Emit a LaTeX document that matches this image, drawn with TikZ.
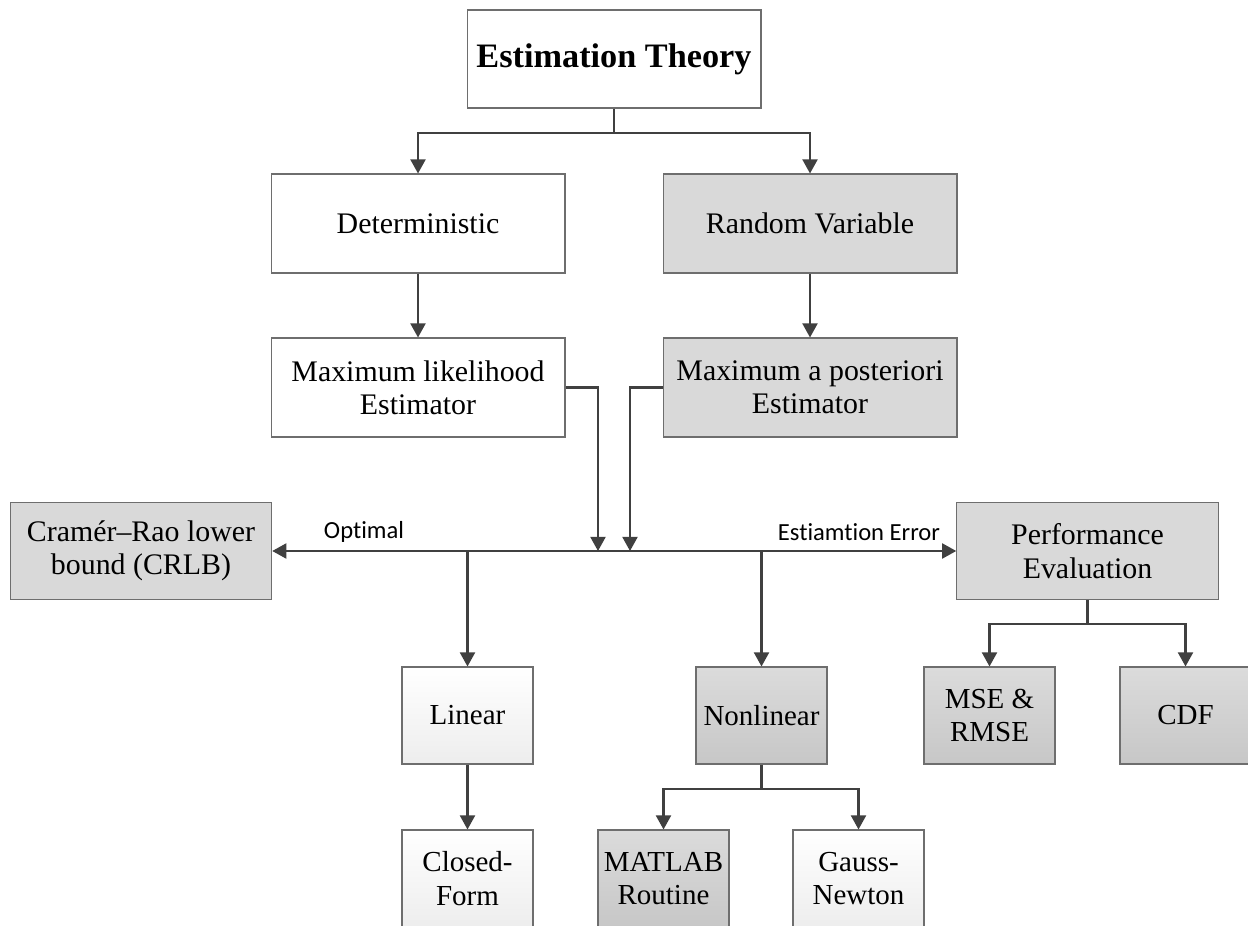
\documentclass[tikz,border=0pt]{standalone}
\usepackage{fontspec}
\setmainfont{Liberation Serif}
\newfontfamily\lblfont[Ligatures=NoCommon]{Carlito}
\usetikzlibrary{arrows.meta,shadings}
\definecolor{linec}{HTML}{404040}
\definecolor{borderc}{HTML}{6E6E6E}
\definecolor{boxgray}{HTML}{D9D9D9}
\tikzset{
  x=0.02cm, y=-0.02cm,
  box/.style={draw=borderc, line width=0.6pt, rectangle, align=center,
    font=\fontsize{16.5}{19}\selectfont, inner sep=2pt},
  whitebox/.style={box, fill=white},
  graybox/.style={box, fill=boxgray},
  lightgrad/.style={box, top color=white, bottom color=black!7},
  darkgrad/.style={box, top color=black!14, bottom color=black!22},
  big/.style={minimum width=5.88cm, minimum height=1.98cm, font=\fontsize{17}{19}\selectfont},
  side/.style={minimum width=5.23cm, minimum height=1.95cm, font=\fontsize{17}{19}\selectfont},
  small/.style={minimum width=2.62cm, minimum height=1.94cm},
  conn/.style={draw=linec, line width=1.25pt},
  arr/.style={conn, -{Triangle[length=8pt,width=8.5pt]}},
  lbl/.style={font=\lblfont\fontsize{14}{16}\selectfont, inner sep=0pt}
}
\begin{document}
\begin{tikzpicture}
\fill[white] (0,0) rectangle (1248,926);
\useasboundingbox (0,0) rectangle (1248,926);
\clip (0,0) rectangle (1248,926);

% nodes
\node[whitebox, minimum width=5.88cm, minimum height=1.96cm,
      font=\bfseries\fontsize{19.5}{23}\selectfont] (et) at (614,59) {Estimation Theory};
\node[whitebox, big] (det) at (418,223.5) {Deterministic};
\node[graybox, big] (rv) at (810,223.5) {Random Variable};
\node[whitebox, big] (mle) at (418,387.5) {Maximum likelihood\\Estimator};
\node[graybox, big] (map) at (810,387.5) {Maximum a posteriori\\Estimator};
\node[graybox, side] (crlb) at (141,551) {Cram\'er--Rao lower\\bound (CRLB)};
\node[graybox, side] (perf) at (1087.5,551) {Performance\\Evaluation};
\node[lightgrad, small] (lin) at (467.5,715.5) {Linear};
\node[darkgrad, small] (nonlin) at (761.5,715.5) {Nonlinear};
\node[darkgrad, small] (mse) at (989.5,715.5) {MSE \&\\RMSE};
\node[darkgrad, small] (cdf) at (1185.5,715.5) {CDF};
\node[lightgrad, small] (closed) at (467.5,878.5) {Closed-\\Form};
\node[darkgrad, small] (matlab) at (663.5,878.5) {MATLAB\\Routine};
\node[lightgrad, small] (gauss) at (858.5,878.5) {Gauss-\\Newton};

% labels
\node[lbl] (opt) at (364,532) {Optimal};
\node[lbl] (err) at (859,532) {Estiamtion Error};

% coordinates
\coordinate (s1) at (614,133);
\coordinate (m1) at (598,551);
\coordinate (m2) at (630,551);
\coordinate (hub) at (614,551);
\coordinate (b1) at (467.5,551);
\coordinate (b2) at (761.5,551);
\coordinate (s2) at (761.5,789);
\coordinate (s3) at (1087.5,624);

% connectors
\draw[conn] (et.south) -- (s1);
\draw[arr] (s1) -| (det.north);
\draw[arr] (s1) -| (rv.north);
\draw[arr] (det.south) -- (mle.north);
\draw[arr] (rv.south) -- (map.north);
\draw[arr] (mle.east) -| (m1);
\draw[arr] (map.west) -| (m2);
\draw[arr] (hub) -- (crlb.east);
\draw[arr] (hub) -- (perf.west);
\draw[arr] (b1) -- (lin.north);
\draw[arr] (b2) -- (nonlin.north);
\draw[arr] (lin.south) -- (closed.north);
\draw[conn] (nonlin.south) -- (s2);
\draw[arr] (s2) -| (matlab.north);
\draw[arr] (s2) -| (gauss.north);
\draw[conn] (perf.south) -- (s3);
\draw[arr] (s3) -| (mse.north);
\draw[arr] (s3) -| (cdf.north);
\end{tikzpicture}
\end{document}
